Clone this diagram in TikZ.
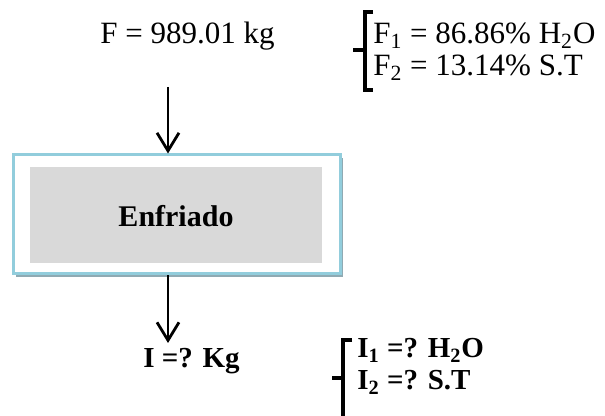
\documentclass[tikz,border=0pt]{standalone}
\usepackage{fontspec}
\setmainfont{Liberation Serif}
\usetikzlibrary{arrows.meta,shadows}
\definecolor{borde}{HTML}{92CDDC}
\definecolor{sombra}{HTML}{8FAAB3}
\definecolor{gris}{HTML}{D9D9D9}

\begin{document}
\begin{tikzpicture}[x=0.5pt,y=-0.5pt,
  flecha/.style={line width=1.3pt,-{Straight Barb[length=9pt,width=11pt,line width=1.4pt]}},
  llave/.style={line width=1.7pt},
  texto/.style={font=\fontsize{15.5}{18}\selectfont,inner sep=0pt,anchor=base west},
  negrita/.style={texto,font=\fontsize{14.5}{18}\selectfont\bfseries}]

  \useasboundingbox (0,0) rectangle (605,416);

  % caja
  \node[draw=borde,line width=1.5pt,fill=white,minimum width=163.5pt,minimum height=59.5pt,
        drop shadow={shadow xshift=1.5pt,shadow yshift=-1.5pt,fill=sombra,opacity=1}] (caja) at (176.5,214.5) {};
  \node[fill=gris,minimum width=146pt,minimum height=48pt,inner sep=0pt] (fondo) at (176,215) {};
  \node[negrita,font=\fontsize{15}{18}\selectfont\bfseries,anchor=base] (etiqueta) at (176,227) {Enfriado};

  % flechas
  \coordinate (entrada) at (168,87);
  \coordinate (salida) at (168,343);
  \draw[flecha] (entrada) -- (entrada |- caja.north);
  \draw[flecha] (salida |- caja.south) -- (salida);

  % alimentacion
  \node[texto] (F) at (100,44) {F = 989.01 kg};
  \node[texto] (F1) at (373,44) {F\textsubscript{1} = 86.86\% H\textsubscript{2}O};
  \node[texto] (F2) at (373,76) {F\textsubscript{2} = 13.14\% S.T};
  \draw[llave] (373,12) -| (365,90) -- (373,90);
  \draw[llave] (353,50) -- (365,50);

  % producto
  \node[negrita] (I) at (143,368) {I =? Kg};
  \node[negrita] (I1) at (357,358) {I\textsubscript{1} =? H\textsubscript{2}O};
  \node[negrita] (I2) at (357,390) {I\textsubscript{2} =? S.T};
  \draw[llave] (352,340) -| (343,420);
  \draw[llave] (332,378) -- (343,378);

\end{tikzpicture}
\end{document}
